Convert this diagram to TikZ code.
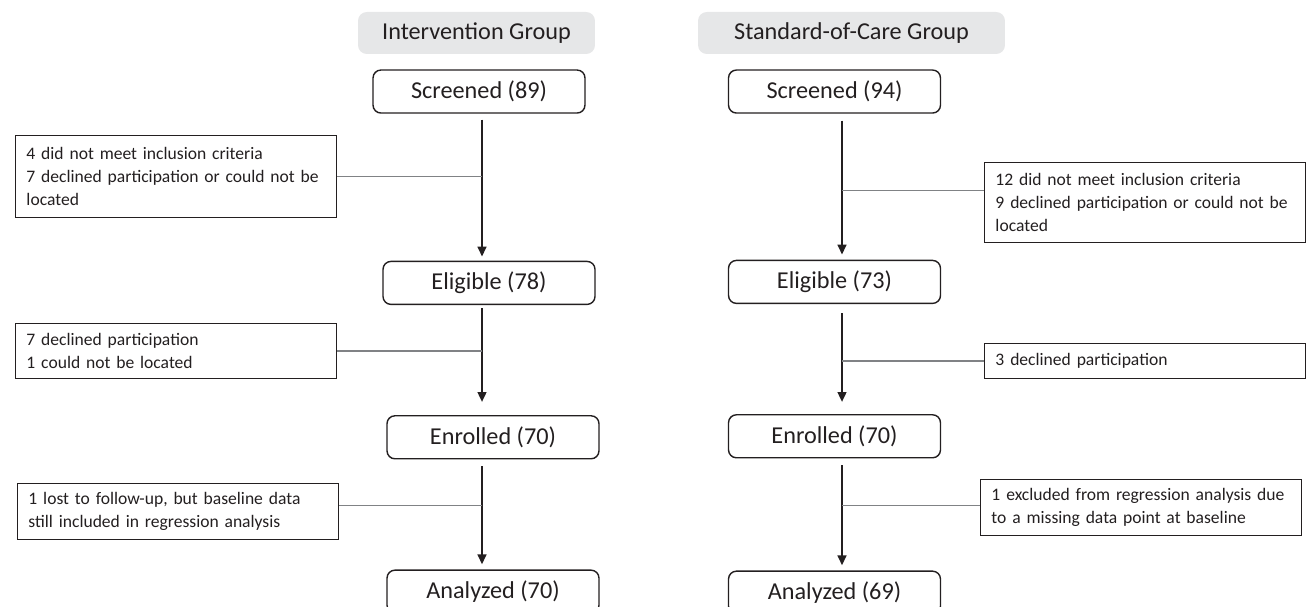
\documentclass[tikz,border=0pt]{standalone}
\usepackage{fontspec}
\setmainfont{Carlito}
\usepackage{xcolor}
\usetikzlibrary{positioning, arrows.meta}
\definecolor{ink}{HTML}{231F20}
\definecolor{hdrgray}{HTML}{E6E7E8}
\definecolor{linkgray}{HTML}{808285}

\begin{document}
\begin{tikzpicture}[
    x=0.02cm, y=-0.02cm,
    grp/.style={fill=hdrgray, rounded corners=5pt, minimum height=0.84cm,
                font=\fontsize{13.8}{16}\selectfont, text=ink},
    stage/.style={draw=ink, line width=0.8pt, rounded corners=4.5pt,
                  minimum width=4.24cm, minimum height=0.86cm,
                  font=\fontsize{13.8}{16}\selectfont, text=ink},
    note/.style={draw=ink, line width=0.55pt, text width=5.98cm, inner xsep=0.22cm,
                 align=left, anchor=north west,
                 font=\fontsize{10}{13.3}\selectfont, text=ink},
    flow/.style={-{Triangle[length=2mm, width=1.7mm]}, line width=1.6pt, draw=ink},
    link/.style={draw=linkgray, line width=0.6pt},
]
    \useasboundingbox (0,0) rectangle (1311,607);

    % intervention arm
    \node[grp, minimum width=4.74cm] (hdrL) at (476.5,33) {Intervention Group};
    \node[stage, below=0.3cm of hdrL, xshift=0.05cm] (scrL) {Screened (89)};
    \node[stage, below=2.94cm of scrL, xshift=0.2cm] (eligL) {Eligible (78)};
    \node[stage, below=2.2cm of eligL, xshift=0.08cm] (enrL) {Enrolled (70)};
    \node[stage, below=2.2cm of enrL] (anaL) {Analyzed (70)};

    % standard-of-care arm
    \node[grp, minimum width=6.14cm] (hdrR) at (851.5,33) {Standard-of-Care Group};
    \node[stage, below=0.3cm of hdrR, xshift=-0.34cm] (scrR) {Screened (94)};
    \node[stage, below=2.92cm of scrR] (eligR) {Eligible (73)};
    \node[stage, below=2.2cm of eligR] (enrR) {Enrolled (70)};
    \node[stage, below=2.24cm of enrR] (anaR) {Analyzed (69)};

    \coordinate (colL) at (482,0);
    \coordinate (colR) at (842,0);

    % exclusions
    \node[note, minimum height=1.64cm] (xL1) at (15,135)
        {4 did not meet inclusion criteria\\7 declined participation or could not be\\located};
    \node[note, minimum height=1.1cm] (xL2) at (15,323)
        {7 declined participation\\1 could not be located};
    \node[note, minimum height=1.12cm] (xL3) at (17,483)
        {1 lost to follow-up, but baseline data\\still included in regression analysis};
    \node[note, minimum height=1.6cm] (xR1) at (984,162)
        {12 did not meet inclusion criteria\\9 declined participation or could not be\\located};
    \node[note, minimum height=0.7cm] (xR2) at (984,343)
        {3 declined participation};
    \node[note, minimum height=1.12cm] (xR3) at (980,479)
        {1 excluded from regression analysis due\\to a missing data point at baseline};

    \draw[flow, shorten <=0.12cm, shorten >=0.08cm] (scrL.south -| colL) -- (eligL.north -| colL);
    \draw[flow, shorten <=0.06cm, shorten >=0.26cm] (eligL.south -| colL) -- (enrL.north -| colL);
    \draw[flow, shorten <=0.14cm, shorten >=0.1cm] (enrL.south -| colL) -- (anaL.north -| colL);
    \draw[flow, shorten <=0.14cm, shorten >=0.1cm] (scrR.south -| colR) -- (eligR.north -| colR);
    \draw[flow, shorten <=0.18cm, shorten >=0.24cm] (eligR.south -| colR) -- (enrR.north -| colR);
    \draw[flow, shorten <=0.14cm, shorten >=0.1cm] (enrR.south -| colR) -- (anaR.north -| colR);

    \coordinate (l3) at ([yshift=0.12cm]xL3.east);
    \coordinate (r1) at ([yshift=0.24cm]xR1.west);
    \coordinate (r3) at ([yshift=0.04cm]xR3.west);
    \draw[link] (xL1.east) -- (xL1.east -| colL);
    \draw[link] (xL2.east) -- (xL2.east -| colL);
    \draw[link] (l3) -- (l3 -| colL);
    \draw[link] (r1) -- (r1 -| colR);
    \draw[link] (xR2.west) -- (xR2.west -| colR);
    \draw[link] (r3) -- (r3 -| colR);
\end{tikzpicture}
\end{document}
